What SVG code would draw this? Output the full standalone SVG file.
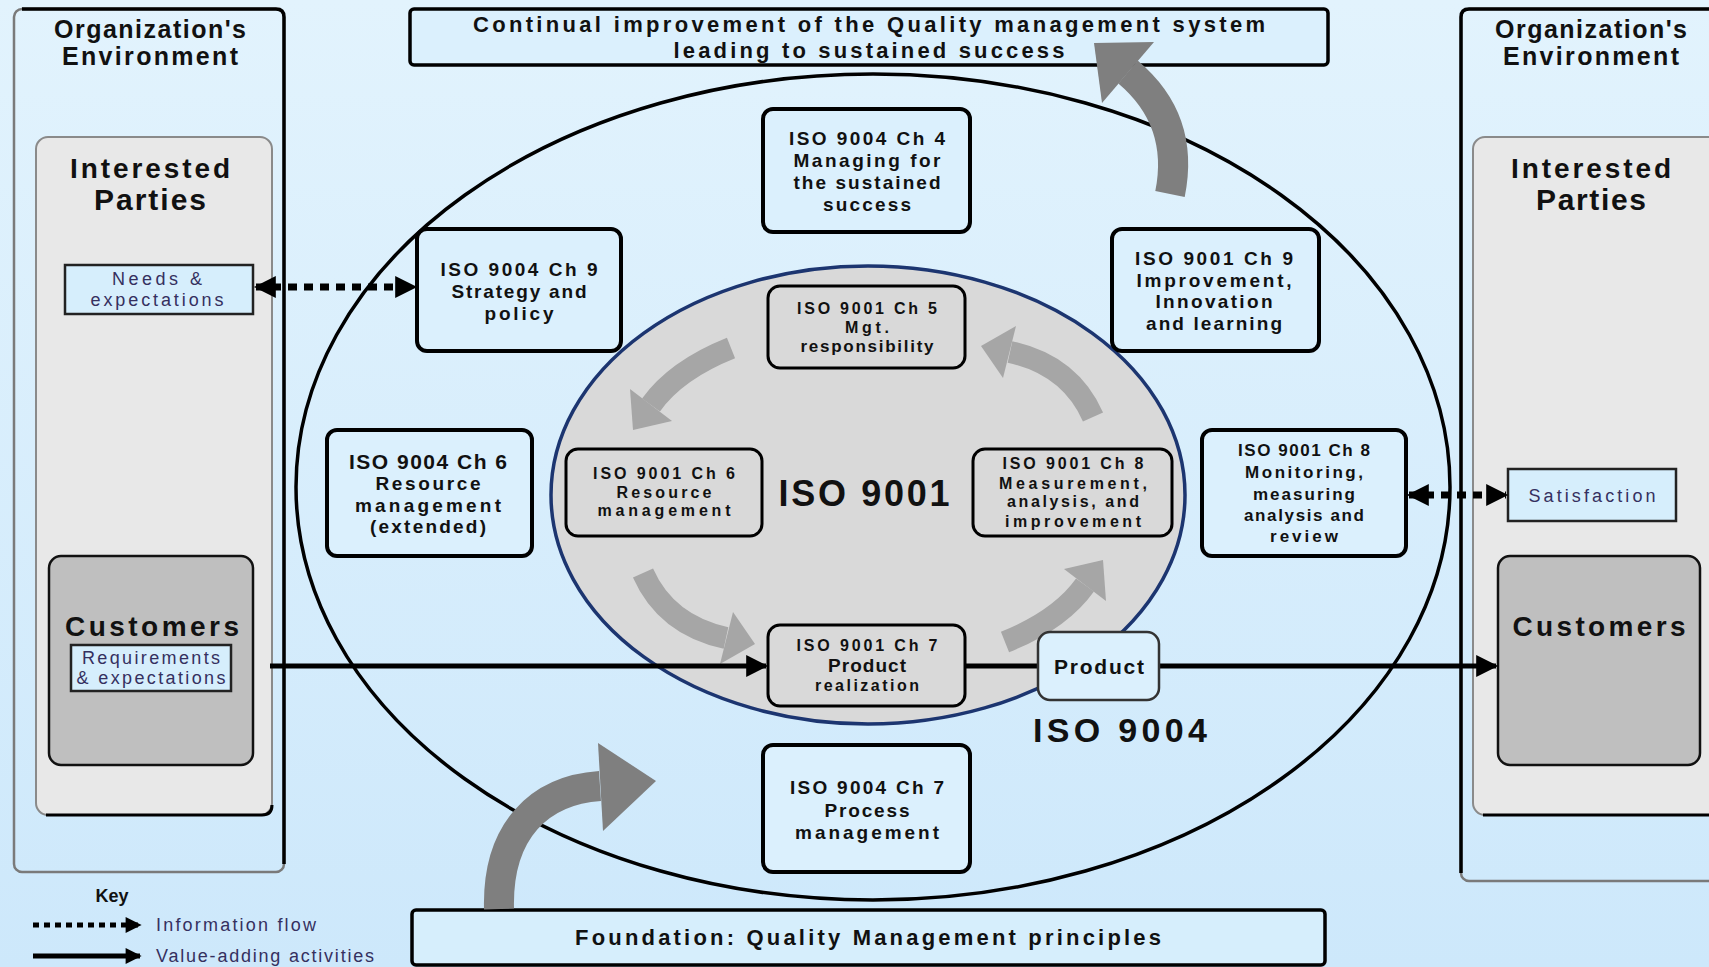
<svg xmlns="http://www.w3.org/2000/svg" width="1709" height="967" viewBox="0 0 1709 967">
  <defs>
    <linearGradient id="bg" x1="0" y1="0" x2="0" y2="1">
      <stop offset="0" stop-color="#e2f3fd"/>
      <stop offset="1" stop-color="#cde8fb"/>
    </linearGradient>
    <marker id="tri" viewBox="0 0 20 20" refX="18" refY="10" markerWidth="24" markerHeight="22" markerUnits="userSpaceOnUse" orient="auto-start-reverse">
      <path d="M0,0 L20,10 L0,20 z" fill="#000"/>
    </marker>
    <marker id="triS" viewBox="0 0 20 20" refX="18" refY="10" markerWidth="18" markerHeight="16" markerUnits="userSpaceOnUse" orient="auto-start-reverse">
      <path d="M0,0 L20,10 L0,20 z" fill="#000"/>
    </marker>
    <style>
      text { font-family: "Liberation Sans", Arial, sans-serif; fill: #111; text-anchor: middle; }
      .b { font-weight: bold; }
      .t19 { font-size: 19px; font-weight: bold; }
      .t17 { font-size: 17px; font-weight: bold; }
      .t16 { font-size: 16px; font-weight: bold; }
      .small { font-size: 18px; fill: #35305f; }
      .box9004 { fill: #dbf0fd; stroke: #000; stroke-width: 4; }
      .box9001 { fill: #d9d9d9; stroke: #000; stroke-width: 3; }
      .infoBox { fill: #d6eefc; stroke: #222; stroke-width: 2.5; }
      .cust { fill: #bfbfbf; stroke: #111; stroke-width: 2.5; }
      .ip { fill: #e8e8e8; stroke: #8a8a8a; stroke-width: 2; }
      .value { stroke: #000; stroke-width: 5; fill: none; }
      .info { stroke: #000; stroke-width: 7; fill: none; stroke-dasharray: 9 7; }
      .bigArrow { fill: none; stroke: #7f7f7f; stroke-width: 30; }
      .bigHead { fill: #7f7f7f; }
      .cycle { fill: none; stroke: #a6a6a6; stroke-width: 22; }
      .cycleHead { fill: #a6a6a6; }
    </style>
  </defs>

  <!-- background -->
  <rect x="0" y="0" width="1709" height="967" fill="url(#bg)"/>

  <!-- left environment panel -->
  <g id="env-left">
    <rect x="14" y="9" width="270" height="863" rx="8" fill="none" stroke="#7a7a7a" stroke-width="2.5"/>
    <path d="M22,9 H276 Q284,9 284,17 V864" fill="none" stroke="#000" stroke-width="3.5"/>
    <text class="b" x="150" y="38" font-size="25" textLength="192" lengthAdjust="spacing">Organization's</text>
    <text class="b" x="150" y="65" font-size="25" textLength="176" lengthAdjust="spacing">Environment</text>
  </g>

  <g id="parties-left">
    <rect class="ip" x="36" y="137" width="236" height="678" rx="12"/>
    <path d="M46,815 H262 Q272,815 272,805" fill="none" stroke="#000" stroke-width="3"/>
    <text class="b" x="150" y="178" font-size="28" textLength="160" lengthAdjust="spacing">Interested</text>
    <text class="b" x="150" y="210" font-size="30" textLength="112" lengthAdjust="spacing">Parties</text>
  </g>

  <g id="needs">
    <rect class="infoBox" x="65" y="265" width="188" height="49"/>
    <text class="small" x="157" y="285" textLength="90" lengthAdjust="spacing">Needs &amp;</text>
    <text class="small" x="157" y="306" textLength="133" lengthAdjust="spacing">expectations</text>
  </g>

  <g id="customers-left">
    <rect class="cust" x="49" y="556" width="204" height="209" rx="12"/>
    <text class="b" x="152" y="636" font-size="28" textLength="174" lengthAdjust="spacing">Customers</text>
    <rect class="infoBox" x="71" y="645" width="160" height="46"/>
    <text class="small" x="151" y="664" font-size="17" textLength="138" lengthAdjust="spacing">Requirements</text>
    <text class="small" x="151" y="684" font-size="17" textLength="149" lengthAdjust="spacing">&amp; expectations</text>
  </g>

  <!-- right environment panel -->
  <g id="env-right">
    <rect x="1461" y="9" width="270" height="872" rx="8" fill="none" stroke="#7a7a7a" stroke-width="2.5"/>
    <path d="M1461,873 V17 Q1461,9 1469,9 H1709" fill="none" stroke="#000" stroke-width="3.5"/>
    <text class="b" x="1591" y="38" font-size="25" textLength="192" lengthAdjust="spacing">Organization's</text>
    <text class="b" x="1591" y="65" font-size="25" textLength="176" lengthAdjust="spacing">Environment</text>
  </g>

  <g id="parties-right">
    <rect class="ip" x="1473" y="137" width="260" height="678" rx="12"/>
    <path d="M1483,815 H1709" fill="none" stroke="#000" stroke-width="3"/>
    <text class="b" x="1591" y="178" font-size="28" textLength="160" lengthAdjust="spacing">Interested</text>
    <text class="b" x="1591" y="210" font-size="30" textLength="110" lengthAdjust="spacing">Parties</text>
  </g>

  <g id="satisfaction">
    <rect class="infoBox" x="1508" y="469" width="168" height="52"/>
    <text class="small" x="1592" y="502" font-size="19" textLength="127" lengthAdjust="spacing">Satisfaction</text>
  </g>

  <g id="customers-right">
    <rect class="cust" x="1498" y="556" width="202" height="209" rx="12" stroke="#333" stroke-width="2"/>
    <text class="b" x="1599" y="636" font-size="28" textLength="173" lengthAdjust="spacing">Customers</text>
  </g>

  <!-- top and bottom banners -->
  <g id="continual-improvement">
    <rect x="410" y="9" width="918" height="56" rx="4" fill="#dbf0fd" stroke="#000" stroke-width="3.5"/>
    <text class="b" x="869" y="32" font-size="22" textLength="792" lengthAdjust="spacing">Continual improvement of the Quality  management system</text>
    <text class="b" x="869" y="58" font-size="22" textLength="391" lengthAdjust="spacing">leading to sustained success</text>
  </g>

  <g id="foundation">
    <rect x="412" y="910" width="913" height="55" rx="4" fill="#d6eefc" stroke="#000" stroke-width="3.5"/>
    <text class="b" x="868" y="945" font-size="22" textLength="586" lengthAdjust="spacing">Foundation: Quality  Management principles</text>
  </g>

  <!-- ISO 9004 boundary and ISO 9001 core -->
  <g id="iso9004-scope">
    <ellipse cx="873" cy="487" rx="577" ry="413" fill="none" stroke="#000" stroke-width="3.5"/>
    <text class="b" x="1120" y="742" font-size="34" textLength="174" lengthAdjust="spacing">ISO 9004</text>
  </g>

  <g id="iso9001-core">
    <ellipse cx="868" cy="495" rx="317" ry="229" fill="#d9d9d9" stroke="#1c3570" stroke-width="3.5"/>
    <text class="b" x="864" y="506" font-size="36" textLength="171" lengthAdjust="spacing">ISO 9001</text>
  </g>

  <!-- improvement cycle inside ISO 9001 -->
  <g id="cycle">
    <path class="cycle" d="M731,348 Q676,370 651,405"/>
    <polygon class="cycleHead" points="630,389 672,421 633,430"/>
    <path class="cycle" d="M643,573 Q666,625 726,638"/>
    <polygon class="cycleHead" points="733,612 720,664 755,644"/>
    <path class="cycle" d="M1005,642 Q1060,620 1085,585"/>
    <polygon class="cycleHead" points="1106,601 1064,569 1103,560"/>
    <path class="cycle" d="M1093,417 Q1070,365 1010,352"/>
    <polygon class="cycleHead" points="1003,378 1016,326 981,346"/>
  </g>

  <!-- ISO 9004 chapters -->
  <g id="ch4">
    <rect class="box9004" x="763" y="109" width="207" height="123" rx="10"/>
    <text class="t19" x="867" y="145" textLength="156" lengthAdjust="spacing">ISO 9004 Ch  4</text>
    <text class="t19" x="867" y="167" textLength="147" lengthAdjust="spacing">Managing for</text>
    <text class="t19" x="867" y="189" textLength="147" lengthAdjust="spacing">the sustained</text>
    <text class="t19" x="867" y="211" textLength="88" lengthAdjust="spacing">success</text>
  </g>

  <g id="ch9-strategy">
    <rect class="box9004" x="417" y="229" width="204" height="122" rx="10"/>
    <text class="t19" x="519" y="276" textLength="157" lengthAdjust="spacing">ISO 9004 Ch  9</text>
    <text class="t19" x="519" y="298" textLength="135" lengthAdjust="spacing">Strategy and</text>
    <text class="t19" x="519" y="320" textLength="69" lengthAdjust="spacing">policy</text>
  </g>

  <g id="ch9-improvement">
    <rect class="box9004" x="1112" y="229" width="207" height="122" rx="10"/>
    <text class="t19" x="1214" y="265" textLength="158" lengthAdjust="spacing">ISO 9001 Ch  9</text>
    <text class="t19" x="1214" y="287" textLength="155" lengthAdjust="spacing">Improvement,</text>
    <text class="t19" x="1214" y="308" textLength="117" lengthAdjust="spacing">Innovation</text>
    <text class="t19" x="1214" y="330" textLength="136" lengthAdjust="spacing">and learning</text>
  </g>

  <g id="ch6-resources">
    <rect class="box9004" x="327" y="430" width="205" height="126" rx="10"/>
    <text class="b" x="428" y="469" font-size="21" textLength="158" lengthAdjust="spacing">ISO 9004 Ch 6</text>
    <text class="t19" x="428" y="490" textLength="105" lengthAdjust="spacing">Resource</text>
    <text class="t19" x="428" y="512" textLength="146" lengthAdjust="spacing">management</text>
    <text class="t19" x="428" y="533" textLength="116" lengthAdjust="spacing">(extended)</text>
  </g>

  <g id="ch8-monitoring">
    <rect class="box9004" x="1202" y="430" width="204" height="126" rx="10"/>
    <text class="t17" x="1304" y="456" textLength="132" lengthAdjust="spacing">ISO 9001 Ch 8</text>
    <text class="t17" x="1304" y="478" textLength="118" lengthAdjust="spacing">Monitoring,</text>
    <text class="t17" x="1304" y="500" textLength="102" lengthAdjust="spacing">measuring</text>
    <text class="t17" x="1304" y="521" textLength="120" lengthAdjust="spacing">analysis and</text>
    <text class="t17" x="1304" y="542" textLength="68" lengthAdjust="spacing">review</text>
  </g>

  <g id="ch7-process">
    <rect class="box9004" x="763" y="745" width="207" height="127" rx="10"/>
    <text class="t19" x="867" y="794" textLength="154" lengthAdjust="spacing">ISO 9004 Ch 7</text>
    <text class="t19" x="867" y="817" textLength="85" lengthAdjust="spacing">Process</text>
    <text class="t19" x="867" y="839" textLength="144" lengthAdjust="spacing">management</text>
  </g>

  <!-- ISO 9001 clauses -->
  <g id="c5">
    <rect class="box9001" x="768" y="286" width="197" height="82" rx="12"/>
    <text class="t16" x="867" y="314" textLength="140" lengthAdjust="spacing">ISO 9001 Ch 5</text>
    <text class="t16" x="867" y="333" textLength="44" lengthAdjust="spacing">Mgt.</text>
    <text class="t17" x="867" y="352" textLength="133" lengthAdjust="spacing">responsibility</text>
  </g>

  <g id="c6">
    <rect class="box9001" x="566" y="449" width="196" height="87" rx="12"/>
    <text class="t16" x="664" y="479" textLength="142" lengthAdjust="spacing">ISO 9001 Ch 6</text>
    <text class="t16" x="664" y="498" textLength="95" lengthAdjust="spacing">Resource</text>
    <text class="t16" x="664" y="516" textLength="133" lengthAdjust="spacing">management</text>
  </g>

  <g id="c8">
    <rect class="box9001" x="973" y="449" width="199" height="87" rx="12"/>
    <text class="t16" x="1073" y="469" textLength="141" lengthAdjust="spacing">ISO 9001 Ch 8</text>
    <text class="t16" x="1073" y="489" textLength="148" lengthAdjust="spacing">Measurement,</text>
    <text class="t16" x="1073" y="507" textLength="132" lengthAdjust="spacing">analysis, and</text>
    <text class="t16" x="1073" y="527" textLength="136" lengthAdjust="spacing">improvement</text>
  </g>

  <g id="c7">
    <rect class="box9001" x="768" y="625" width="197" height="81" rx="12"/>
    <text class="t16" x="867" y="651" textLength="141" lengthAdjust="spacing">ISO 9001 Ch 7</text>
    <text class="b" x="867" y="672" font-size="19" textLength="78" lengthAdjust="spacing">Product</text>
    <text class="t16" x="867" y="691" textLength="104" lengthAdjust="spacing">realization</text>
  </g>

  <!-- flows -->
  <g id="connectors">
    <line class="value" x1="270" y1="666" x2="766" y2="666" marker-end="url(#tri)"/>
    <line class="value" x1="965" y1="666" x2="1038" y2="666"/>
    <line class="value" x1="1159" y1="666" x2="1496" y2="666" marker-end="url(#tri)"/>
    <line class="info" x1="256" y1="287" x2="415" y2="287" marker-start="url(#tri)" marker-end="url(#tri)"/>
    <line class="info" x1="1409" y1="495" x2="1506" y2="495" marker-start="url(#tri)" marker-end="url(#tri)"/>

    <!-- improvement and foundation arrows -->
    <path class="bigArrow" d="M1170,194 Q1185,120 1128,72"/>
    <polygon class="bigHead" points="1154,42 1094,43 1102,103"/>
    <path class="bigArrow" d="M499,909 C497,830 540,790 600,786"/>
    <polygon class="bigHead" points="598,743 656,781 603,831"/>
  </g>

  <g id="product">
    <rect x="1038" y="632" width="121" height="68" rx="12" fill="#dbf0fd" stroke="#333" stroke-width="2.5"/>
    <text class="b" x="1099" y="674" font-size="21" textLength="90" lengthAdjust="spacing">Product</text>
  </g>

  <!-- key -->
  <g id="key">
    <text class="b" x="112" y="902" font-size="18">Key</text>
    <line x1="33" y1="925" x2="140" y2="925" stroke="#000" stroke-width="5" stroke-dasharray="6 5" marker-end="url(#triS)"/>
    <text class="small" x="156" y="931" style="text-anchor:start" font-size="18" textLength="160" lengthAdjust="spacing">Information flow</text>
    <line x1="33" y1="956" x2="140" y2="956" stroke="#000" stroke-width="5" marker-end="url(#triS)"/>
    <text class="small" x="156" y="962" style="text-anchor:start" font-size="18" textLength="218" lengthAdjust="spacing">Value-adding activities</text>
  </g>
</svg>
